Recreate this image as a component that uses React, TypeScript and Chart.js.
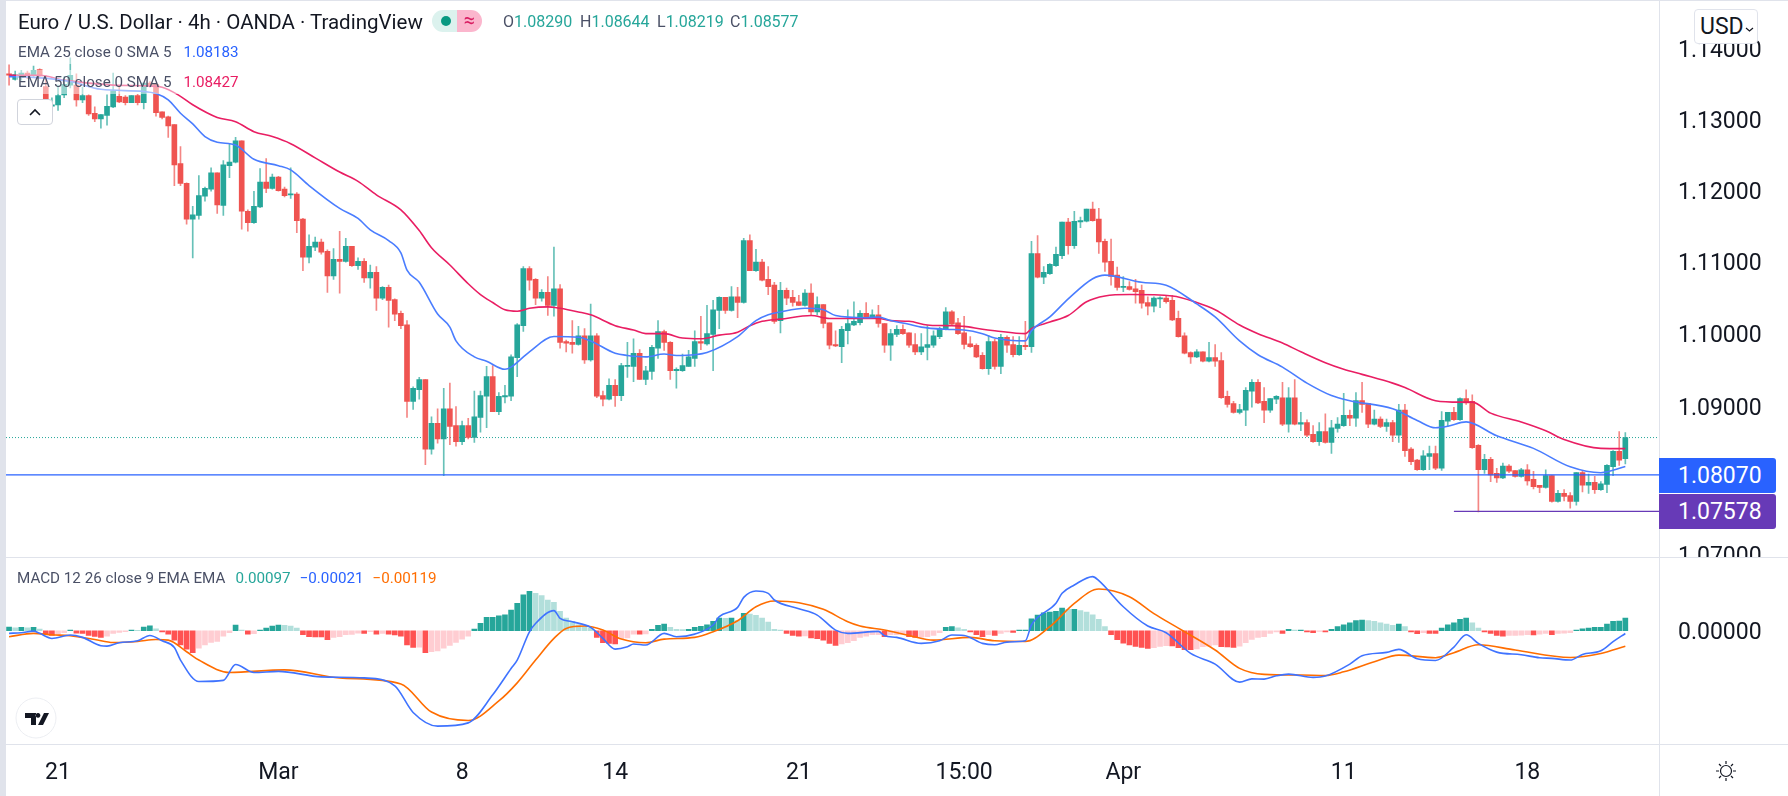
import { useEffect, useRef } from "react";
import { Chart, registerables } from "chart.js";
import type { Plugin, Scale } from "chart.js";

Chart.register(...registerables);

const opens = [
  1.1364,1.1356,1.1359,1.1365,1.1362,1.1370,1.1346,1.1318,1.1320,1.1334,
  1.1348,1.1348,1.1327,1.1333,1.1308,1.1300,1.1305,1.1317,1.1332,1.1331,
  1.1323,1.1333,1.1323,1.1351,1.1349,1.1310,1.1303,1.1292,1.1237,1.1209,
  1.1159,1.1164,1.1191,1.1201,1.1224,1.1178,1.1234,1.1239,1.1269,1.1170,
  1.1154,1.1176,1.1211,1.1202,1.1218,1.1201,1.1193,1.1194,1.1159,1.1106,
  1.1120,1.1127,1.1114,1.1080,1.1103,1.1100,1.1121,1.1094,1.1100,1.1077,
  1.1085,1.1049,1.1064,1.1047,1.1028,1.1012,1.0907,1.0923,1.0937,1.0842,
  1.0877,1.0856,1.0897,1.0874,1.0852,1.0874,1.0858,1.0885,1.0914,1.0941,
  1.0893,1.0913,1.0914,1.0967,1.1011,1.1090,1.1075,1.1049,1.1057,1.1039,
  1.1062,1.0989,1.0988,1.0985,1.0997,1.0964,1.0997,1.0915,1.0910,1.0929,
  1.0915,1.0955,1.0955,1.0973,1.0937,1.0948,1.0980,1.1003,1.0988,1.0949,
  1.0949,1.0955,1.0966,1.0989,1.0986,1.0999,1.1032,1.1050,1.1032,1.1051,
  1.1043,1.1129,1.1087,1.1099,1.1075,1.1067,1.1018,1.1060,1.1050,1.1044,
  1.1039,1.1056,1.1030,1.1040,1.1015,1.0985,1.0982,1.1004,1.1012,1.1015,
  1.1028,1.1022,1.1026,1.1014,1.0984,1.0999,1.1006,1.1001,1.0985,1.0975,
  1.0981,1.0984,1.0996,1.1006,1.1030,1.1015,1.1001,1.0986,1.0984,1.0970,
  1.0952,1.0989,1.0955,1.0995,1.0985,1.0971,1.0984,1.0982,1.1111,1.1078,
  1.1083,1.1094,1.1108,1.1155,1.1122,1.1155,1.1156,1.1173,1.1159,1.1128,
  1.1100,1.1081,1.1064,1.1065,1.1062,1.1060,1.1043,1.1038,1.1048,1.1049,
  1.1046,1.1021,1.0997,1.0974,1.0968,1.0975,1.0962,1.0967,1.0963,1.0914,
  1.0904,1.0892,1.0895,1.0921,1.0933,1.0907,1.0895,1.0910,1.0912,1.0876,
  1.0912,1.0876,1.0878,1.0862,1.0852,1.0866,1.0851,1.0870,1.0874,1.0888,
  1.0884,1.0908,1.0904,1.0876,1.0883,1.0873,1.0878,1.0861,1.0895,1.0842,
  1.0827,1.0814,1.0832,1.0836,1.0816,1.0880,1.0892,1.0882,1.0911,1.0907,
  1.0847,1.0814,1.0828,1.0809,1.0803,1.0819,1.0813,1.0805,1.0814,1.0801,
  1.0793,1.0790,1.0806,1.0771,1.0782,1.0779,1.0771,1.0810,1.0793,1.0797,
  1.0787,1.0794,1.0818,1.0839,1.0829,
];

const closes = [
  1.1362,1.1363,1.1365,1.1362,1.1369,1.1361,1.1318,1.1320,1.1333,1.1349,
  1.1362,1.1327,1.1333,1.1307,1.1300,1.1306,1.1318,1.1340,1.1324,1.1323,
  1.1333,1.1323,1.1351,1.1348,1.1309,1.1302,1.1290,1.1235,1.1209,1.1159,
  1.1165,1.1192,1.1202,1.1224,1.1179,1.1235,1.1239,1.1269,1.1170,1.1154,
  1.1177,1.1211,1.1202,1.1218,1.1199,1.1192,1.1194,1.1157,1.1106,1.1121,
  1.1127,1.1113,1.1080,1.1103,1.1100,1.1121,1.1094,1.1100,1.1077,1.1085,
  1.1049,1.1064,1.1046,1.1027,1.1011,1.0907,1.0925,1.0937,1.0842,1.0877,
  1.0856,1.0897,1.0873,1.0852,1.0874,1.0858,1.0886,1.0915,1.0941,1.0893,
  1.0914,1.0915,1.0968,1.1012,1.1090,1.1074,1.1049,1.1057,1.1039,1.1062,
  1.0988,1.0987,1.0985,1.0997,1.0964,1.0997,1.0914,1.0910,1.0929,1.0915,
  1.0956,1.0956,1.0973,1.0937,1.0949,1.0981,1.1003,1.0988,1.0949,1.0951,
  1.0956,1.0968,1.0989,1.0987,1.1000,1.1033,1.1050,1.1032,1.1051,1.1043,
  1.1129,1.1087,1.1099,1.1074,1.1065,1.1017,1.1060,1.1049,1.1043,1.1039,
  1.1056,1.1030,1.1040,1.1014,1.0984,1.0983,1.1006,1.1014,1.1017,1.1028,
  1.1022,1.1026,1.1014,1.0984,1.1000,1.1006,1.1000,1.0984,1.0975,1.0982,
  1.0985,1.0997,1.1007,1.1030,1.1013,1.1000,1.0985,1.0982,1.0968,1.0952,
  1.0989,1.0955,1.0995,1.0984,1.0971,1.0984,1.0982,1.1111,1.1078,1.1085,
  1.1096,1.1110,1.1155,1.1122,1.1156,1.1157,1.1173,1.1157,1.1127,1.1099,
  1.1079,1.1064,1.1065,1.1061,1.1058,1.1042,1.1038,1.1049,1.1049,1.1044,
  1.1019,1.0996,1.0973,1.0968,1.0975,1.0962,1.0967,1.0962,1.0912,1.0903,
  1.0892,1.0896,1.0922,1.0933,1.0905,1.0895,1.0911,1.0914,1.0876,1.0912,
  1.0876,1.0878,1.0861,1.0852,1.0866,1.0851,1.0871,1.0876,1.0888,1.0884,
  1.0908,1.0903,1.0876,1.0883,1.0873,1.0878,1.0861,1.0895,1.0840,1.0825,
  1.0814,1.0833,1.0836,1.0816,1.0881,1.0892,1.0882,1.0911,1.0905,1.0844,
  1.0814,1.0828,1.0807,1.0803,1.0819,1.0812,1.0805,1.0814,1.0799,1.0791,
  1.0790,1.0806,1.0771,1.0782,1.0778,1.0771,1.0810,1.0793,1.0797,1.0787,
  1.0795,1.0820,1.0839,1.0827,1.08577,
];

const highs = [
  1.1377,1.1368,1.1369,1.1368,1.1375,1.1371,1.1362,1.1330,1.1348,1.1360,
  1.1387,1.1364,1.1345,1.1334,1.1317,1.1306,1.1334,1.1365,1.1345,1.1333,
  1.1333,1.1335,1.1351,1.1353,1.1351,1.1310,1.1304,1.1292,1.1261,1.1210,
  1.1177,1.1220,1.1204,1.1231,1.1224,1.1241,1.1264,1.1274,1.1269,1.1172,
  1.1198,1.1230,1.1244,1.1222,1.1219,1.1204,1.1231,1.1196,1.1160,1.1137,
  1.1134,1.1131,1.1116,1.1118,1.1142,1.1132,1.1121,1.1105,1.1104,1.1095,
  1.1093,1.1065,1.1067,1.1048,1.1031,1.1018,1.0927,1.0940,1.0937,1.0886,
  1.0897,1.0925,1.0932,1.0900,1.0880,1.0884,1.0921,1.0921,1.0955,1.0956,
  1.0919,1.0929,1.0971,1.1014,1.1093,1.1093,1.1076,1.1061,1.1079,1.1120,
  1.1068,1.0991,1.1018,1.1010,1.1007,1.1041,1.1000,1.0921,1.0938,1.0937,
  1.0959,1.0988,1.0993,1.0978,1.0955,1.0984,1.1018,1.1005,1.0989,1.0953,
  1.0972,1.0977,1.1004,1.1024,1.1039,1.1046,1.1051,1.1050,1.1065,1.1064,
  1.1132,1.1137,1.1117,1.1103,1.1093,1.1071,1.1071,1.1063,1.1060,1.1053,
  1.1061,1.1069,1.1051,1.1040,1.1015,1.1004,1.1010,1.1033,1.1044,1.1032,
  1.1043,1.1033,1.1039,1.1014,1.1006,1.1011,1.1012,1.1001,1.1000,1.1000,
  1.1011,1.1004,1.1009,1.1036,1.1032,1.1021,1.1024,1.0996,1.0986,1.0974,
  1.0997,1.0992,1.0999,1.0997,1.0996,1.0996,1.1017,1.1128,1.1136,1.1093,
  1.1097,1.1120,1.1155,1.1160,1.1170,1.1162,1.1173,1.1183,1.1174,1.1131,
  1.1131,1.1092,1.1079,1.1072,1.1075,1.1067,1.1051,1.1051,1.1051,1.1053,
  1.1053,1.1031,1.1001,1.0975,1.0978,1.0975,1.0988,1.0985,1.0974,1.0921,
  1.0907,1.0903,1.0926,1.0937,1.0937,1.0926,1.0911,1.0915,1.0933,1.0926,
  1.0937,1.0892,1.0882,1.0874,1.0878,1.0890,1.0881,1.0885,1.0918,1.0895,
  1.0919,1.0933,1.0904,1.0895,1.0886,1.0883,1.0881,1.0903,1.0903,1.0844,
  1.0828,1.0840,1.0846,1.0846,1.0893,1.0892,1.0899,1.0912,1.0923,1.0916,
  1.0848,1.0835,1.0831,1.0816,1.0823,1.0821,1.0813,1.0816,1.0821,1.0812,
  1.0793,1.0814,1.0806,1.0786,1.0787,1.0783,1.0810,1.0812,1.0808,1.0805,
  1.0798,1.0821,1.0840,1.0866,1.08644,
];

const lows = [
  1.1348,1.1355,1.1355,1.1357,1.1359,1.1358,1.1312,1.1316,1.1312,1.1330,
  1.1344,1.1318,1.1323,1.1305,1.1296,1.1287,1.1291,1.1316,1.1323,1.1320,
  1.1323,1.1320,1.1314,1.1345,1.1304,1.1300,1.1274,1.1206,1.1206,1.1152,
  1.1105,1.1159,1.1184,1.1198,1.1167,1.1164,1.1217,1.1238,1.1145,1.1142,
  1.1153,1.1175,1.1196,1.1201,1.1198,1.1190,1.1188,1.1140,1.1087,1.1098,
  1.1115,1.1110,1.1057,1.1075,1.1056,1.1099,1.1093,1.1089,1.1071,1.1063,
  1.1032,1.1047,1.1009,1.1018,1.1007,1.0885,1.0896,1.0910,1.0821,1.0835,
  1.0850,1.0806,1.0848,1.0846,1.0848,1.0856,1.0851,1.0865,1.0871,1.0893,
  1.0889,1.0905,1.0908,1.0941,1.1003,1.1060,1.1040,1.1045,1.1025,1.1024,
  1.0980,1.0975,1.0973,1.0984,1.0959,1.0962,1.0912,1.0901,1.0909,1.0900,
  1.0908,1.0940,1.0934,1.0937,1.0930,1.0937,1.0966,1.0977,1.0937,1.0925,
  1.0948,1.0955,1.0955,1.0978,1.0984,1.0949,1.1007,1.1028,1.1031,1.1022,
  1.1042,1.1087,1.1086,1.1073,1.1054,1.1014,1.1001,1.1040,1.1038,1.1039,
  1.1038,1.1025,1.1026,1.1008,1.0979,1.0982,1.0960,1.0986,1.1011,1.1012,
  1.1021,1.1021,1.1009,1.0974,1.0963,1.0996,1.0999,1.0981,1.0971,1.0971,
  1.0964,1.0981,1.0993,1.1005,1.1012,1.0999,1.0979,1.0981,1.0967,1.0951,
  1.0944,1.0951,1.0945,1.0974,1.0968,1.0970,1.0978,1.0974,1.1077,1.1069,
  1.1082,1.1093,1.1104,1.1110,1.1118,1.1147,1.1155,1.1156,1.1111,1.1086,
  1.1067,1.1060,1.1058,1.1060,1.1042,1.1035,1.1026,1.1030,1.1036,1.1042,
  1.1018,1.0995,1.0972,1.0959,1.0967,1.0961,1.0961,1.0955,1.0911,1.0899,
  1.0891,1.0890,1.0874,1.0899,1.0904,1.0878,1.0892,1.0904,1.0874,1.0865,
  1.0875,1.0867,1.0859,1.0851,1.0847,1.0850,1.0836,1.0865,1.0873,1.0874,
  1.0873,1.0892,1.0871,1.0875,1.0871,1.0866,1.0852,1.0851,1.0832,1.0821,
  1.0813,1.0813,1.0814,1.0814,1.0813,1.0873,1.0881,1.0881,1.0903,1.0843,
  1.0757,1.0809,1.0798,1.0797,1.0802,1.0810,1.0804,1.0804,1.0793,1.0788,
  1.0783,1.0789,1.0770,1.0770,1.0772,1.0762,1.0766,1.0784,1.0782,1.0782,
  1.0786,1.0783,1.0806,1.0820,1.08219,
];

// EMA readings, taken at the bars where the curve bends
const ema25At = [0,4,10,15,22,24,26,28,30,32,34,37,40,44,46,49,54,57,59,62,64,65,67,70,72,73,76,78,81,82,85,89,93,95,99,101,104,107,109,112,114,119,122,124,126,130,133,135,140,142,144,147,149,153,156,159,161,166,167,170,173,177,179,185,189,194,197,201,204,208,212,216,219,226,230,233,235,238,243,249,255,260,264];
const ema25 = [1.1360,1.1359,1.1353,1.1342,1.1339,1.1336,1.1327,1.1308,1.1293,1.1275,1.1267,1.1263,1.1243,1.1234,1.1228,1.1206,1.1174,1.1160,1.1144,1.1129,1.1112,1.1088,1.1071,1.1027,1.1009,1.0990,1.0968,1.0962,1.0951,1.0954,1.0975,1.0996,1.0995,1.0990,1.0973,1.0970,1.0968,1.0972,1.0970,1.0971,1.0974,1.0996,1.1018,1.1026,1.1030,1.1035,1.1033,1.1025,1.1022,1.1023,1.1018,1.1013,1.1009,1.1006,1.1005,1.1000,1.0994,1.0990,1.1004,1.1023,1.1048,1.1076,1.1081,1.1071,1.1067,1.1041,1.1023,1.0990,1.0971,1.0954,1.0932,1.0915,1.0908,1.0897,1.0881,1.0871,1.0873,1.0879,1.0860,1.0843,1.0818,1.0810,1.08183];

const ema50At = [0,5,9,17,22,25,28,30,34,37,40,43,46,50,54,57,60,64,67,69,72,75,77,79,81,83,85,88,90,93,95,99,102,104,107,110,113,116,119,121,123,126,131,134,137,142,144,147,150,153,156,159,161,166,167,170,173,176,179,183,190,194,197,201,204,208,211,215,218,221,226,228,233,237,239,242,247,251,254,260,264];
const ema50 = [1.1362,1.1362,1.1355,1.1348,1.1347,1.1345,1.1332,1.1320,1.1302,1.1296,1.1282,1.1275,1.1265,1.1245,1.1225,1.1212,1.1193,1.1172,1.1143,1.1119,1.1095,1.1069,1.1054,1.1043,1.1033,1.1031,1.1035,1.1037,1.1035,1.1030,1.1026,1.1011,1.1005,1.1000,1.1000,1.0994,1.0993,1.0998,1.1002,1.1011,1.1017,1.1020,1.1025,1.1021,1.1021,1.1021,1.1018,1.1017,1.1012,1.1011,1.1010,1.1006,1.1004,1.1000,1.1007,1.1016,1.1025,1.1044,1.1052,1.1054,1.1052,1.1043,1.1033,1.1012,1.1000,1.0987,1.0975,1.0960,1.0951,1.0944,1.0932,1.0926,1.0908,1.0906,1.0906,1.0891,1.0879,1.0867,1.0855,1.0843,1.08427];

// MACD panel, values in units of 0.00001
const macdHist = [
  28,23,26,23,26,13,-31,-36,-26,-15,
  5,-18,-20,-36,-44,-51,-41,-20,-13,-8,
  5,4,28,38,15,-10,-26,-72,-108,-141,
  -169,-133,-108,-90,-82,-41,-15,44,5,-26,
  -23,5,20,36,44,41,36,20,-31,-46,
  -47,-48,-69,-51,-46,-31,-28,-18,-20,-8,
  -26,-20,-26,-33,-41,-108,-128,-127,-169,-161,
  -154,-133,-113,-90,-64,-41,13,56,102,103,
  115,123,159,210,276,302,287,269,236,218,
  148,97,72,46,31,20,-51,-92,-97,-102,
  -61,-56,-26,-27,-24,10,41,51,26,10,
  9,10,26,33,46,72,97,96,97,77,
  133,128,118,97,67,10,5,-20,-36,-41,
  -40,-56,-61,-72,-97,-113,-102,-92,-77,-51,
  -41,-31,-30,-46,-31,-30,-28,-46,-51,-50,
  -46,-36,-15,26,31,23,10,-10,-31,-46,
  -31,-36,-20,-10,-13,5,6,92,120,138,
  143,148,174,164,165,154,143,123,87,31,
  -31,-68,-95,-108,-120,-128,-135,-130,-120,-115,
  -116,-130,-145,-146,-140,-123,-118,-108,-123,-124,
  -128,-118,-92,-67,-51,-46,-20,-10,-20,10,
  5,6,-10,-15,-5,-10,10,31,46,61,
  77,82,77,72,61,51,41,51,31,-10,
  -23,-15,-20,-21,20,46,61,87,97,61,
  20,-10,-20,-36,-41,-36,-35,-34,-31,-32,
  -26,-20,-31,-20,-19,-15,5,15,20,26,
  27,51,72,74,97,
];

const macdLineAt = [0,2,4,5,7,10,12,15,16,18,21,23,25,27,28,31,35,37,40,44,51,58,63,66,70,75,79,82,83,85,86,89,90,92,95,97,99,101,102,104,107,109,112,115,116,119,120,122,124,125,129,132,135,137,142,143,145,149,152,154,156,159,161,163,166,167,171,172,174,177,178,182,186,189,193,197,201,203,205,207,209,213,215,219,221,225,227,230,233,236,238,240,243,247,250,252,255,257,260,262,264];
const macdLine = [-20,-15,-3,-20,-59,-33,-51,-115,-118,-92,-77,-36,-77,-128,-225,-390,-381,-259,-320,-312,-354,-362,-423,-627,-732,-707,-492,-290,-225,-8,56,154,95,69,26,-59,-141,-123,-102,-110,-20,-46,-26,44,108,179,256,305,287,236,169,120,5,-20,-5,-38,-51,-97,-77,-33,-36,-97,-108,-87,-77,44,210,287,351,415,384,184,36,-15,-174,-256,-394,-369,-371,-346,-333,-358,-348,-256,-192,-166,-143,-215,-228,-125,-31,-97,-164,-184,-207,-212,-225,-182,-154,-84,-21];

const signalLineAt = [0,4,7,10,14,17,21,24,26,29,31,36,45,54,64,69,75,80,83,86,89,91,94,97,100,104,107,112,115,119,122,125,129,133,137,139,143,147,151,157,161,166,170,174,178,183,187,191,197,201,205,211,215,218,223,227,233,236,240,246,255,260,264];
const signalLine = [-46,-20,-31,-38,-67,-90,-82,-67,-72,-161,-225,-320,-300,-362,-408,-624,-689,-539,-400,-225,-59,18,36,5,-64,-92,-64,-51,-8,77,184,228,215,164,69,36,5,-36,-72,-51,-77,-82,31,210,320,261,131,20,-148,-289,-335,-340,-343,-315,-238,-187,-207,-169,-108,-148,-205,-174,-119];

const priceTicks = [1.07, 1.09, 1.1, 1.11, 1.12, 1.13, 1.14];
const macdTicks = [0];
const timeTickAt = [8, 44, 74, 99, 129, 156, 182, 218, 248];
const timeTicks = ["21", "Mar", "8", "14", "21", "15:00", "Apr", "11", "18"];

const lastClose = 1.08577;
const blueLevel = 1.0807;
const purpleLevel = 1.07578;
const purpleLevelFrom = 236;
const blueLabel = "1.08070";
const purpleLabel = "1.07578";

const TOTAL_SLOTS = 270;
const UP = "#26a69a";
const DOWN = "#ef5350";
const FONT = "Roboto, sans-serif";

// Put sparse readings on the full bar axis, the line spans the gaps
function sparse(at: number[], values: number[], scale = 1) {
  const out: (number | null)[] = new Array(TOTAL_SLOTS).fill(null);
  at.forEach((bar, k) => {
    out[bar] = values[k] * scale;
  });
  return out;
}

// Scales otherwise push the plot area in to make room for half a label
function fixAxis(scale: Scale, size: { width?: number; height?: number }) {
  if (size.width) {
    scale.width = size.width;
  }
  if (size.height) {
    scale.height = size.height;
  }
  scale.paddingLeft = 0;
  scale.paddingRight = 0;
  scale.paddingTop = 0;
  scale.paddingBottom = 0;
}

// Empty first line with a small line height nudges the label down a little
const axisLabel = (v: string | number) => ["", Number(v).toFixed(5)];

const levelLines: Plugin<"bar"> = {
  id: "levelLines",
  beforeDatasetsDraw(chart) {
    const { ctx, chartArea, scales } = chart;
    const y = scales.y.getPixelForValue(lastClose);
    ctx.save();
    ctx.strokeStyle = UP;
    ctx.lineWidth = 1;
    ctx.setLineDash([1, 2]);
    ctx.beginPath();
    ctx.moveTo(chartArea.left, y);
    ctx.lineTo(chartArea.right, y);
    ctx.stroke();
    ctx.restore();
  },
  afterDatasetsDraw(chart) {
    const { ctx, chartArea, scales } = chart;
    ctx.save();
    ctx.lineWidth = 1.2;
    ctx.strokeStyle = "#2962ff";
    ctx.beginPath();
    ctx.moveTo(chartArea.left, scales.y.getPixelForValue(blueLevel));
    ctx.lineTo(chartArea.right, scales.y.getPixelForValue(blueLevel));
    ctx.stroke();
    ctx.strokeStyle = "#673ab7";
    ctx.beginPath();
    ctx.moveTo(scales.x.getPixelForValue(purpleLevelFrom), scales.y.getPixelForValue(purpleLevel));
    ctx.lineTo(chartArea.right, scales.y.getPixelForValue(purpleLevel));
    ctx.stroke();
    ctx.restore();
  },
};

function PriceChart() {
  const canvasRef = useRef<HTMLCanvasElement | null>(null);

  useEffect(() => {
    const canvas = canvasRef.current;
    if (!canvas) {
      return;
    }

    const labels = new Array(TOTAL_SLOTS).fill("").map((_, i) => {
      const k = timeTickAt.indexOf(i);
      return k >= 0 ? timeTicks[k] : "";
    });
    const isUp = opens.map((o, i) => closes[i] >= o);
    const hist = macdHist.map((v) => v / 1e5);

    const line = (data: (number | null)[], color: string, axis: string, width = 1.6) => ({
      type: "line" as const,
      data,
      yAxisID: axis,
      borderColor: color,
      borderWidth: width,
      pointRadius: 0,
      spanGaps: true,
      cubicInterpolationMode: "monotone" as const,
      order: 1,
    });

    const chart = new Chart(canvas, {
      type: "bar",
      data: {
        labels,
        datasets: [
          line(sparse(ema25At, ema25), "#4a7dff", "y"),
          line(sparse(ema50At, ema50), "#e91e63", "y"),
          line(sparse(macdLineAt, macdLine, 1e-5), "#3f73ff", "macd"),
          line(sparse(signalLineAt, signalLine, 1e-5), "#ff6d00", "macd"),
          {
            data: opens.map((o, i) => [o, closes[i]]),
            yAxisID: "y",
            backgroundColor: isUp.map((u) => (u ? UP : DOWN)),
            barThickness: 5,
            minBarLength: 1,
            grouped: false,
            order: 2,
          },
          {
            data: lows.map((l, i) => [l, highs[i]]),
            yAxisID: "y",
            backgroundColor: isUp.map((u) => (u ? "rgba(38,166,154,0.7)" : "rgba(239,83,80,0.7)")),
            barThickness: 1,
            grouped: false,
            order: 3,
          },
          {
            data: hist,
            yAxisID: "macd",
            backgroundColor: hist.map((v, i) => {
              const prev = i > 0 ? hist[i - 1] : 0;
              if (v >= 0) {
                return v >= prev ? "#26a69a" : "#b2dfdb";
              }
              return v <= prev ? "#ff5252" : "#ffcdd2";
            }),
            barThickness: 5,
            grouped: false,
            order: 4,
          },
        ] as any,
      },
      options: {
        responsive: false,
        animation: false,
        layout: { autoPadding: false, padding: { left: 6, top: 1, right: 0, bottom: 0 } },
        plugins: { legend: { display: false }, tooltip: { enabled: false } },
        scales: {
          x: {
            offset: true,
            grid: { display: false },
            border: { display: false },
            ticks: {
              autoSkip: false,
              maxRotation: 0,
              padding: 7,
              color: "#131722",
              font: { family: FONT, size: 23 },
            },
            afterFit: (scale) => fixAxis(scale, { height: 52 }),
          },
          y: {
            type: "logarithmic",
            position: "right",
            stack: "panes",
            stackWeight: 556,
            bounds: "data",
            min: 1.06954,
            max: 1.14682,
            grid: { display: false },
            border: { display: false },
            afterBuildTicks: (scale) => {
              scale.ticks = priceTicks.map((value) => ({ value }));
            },
            ticks: {
              padding: 11,
              color: "#131722",
              font: { family: FONT, size: 23, lineHeight: "6px" },
              callback: axisLabel,
            },
            afterFit: (scale) => fixAxis(scale, { width: 129 }),
          },
          macd: {
            position: "right",
            stack: "panes",
            stackWeight: 186,
            bounds: "data",
            min: -0.00869,
            max: 0.0056,
            grid: { display: false },
            border: { display: false },
            afterBuildTicks: (scale) => {
              scale.ticks = macdTicks.map((value) => ({ value }));
            },
            ticks: {
              padding: 11,
              color: "#131722",
              font: { family: FONT, size: 23, lineHeight: "6px" },
              callback: axisLabel,
            },
            afterFit: (scale) => fixAxis(scale, { width: 129 }),
          },
        },
      },
      plugins: [levelLines],
    });

    return () => {
      chart.destroy();
    };
  }, []);

  return <canvas ref={canvasRef} width={1788} height={796} style={{ position: "absolute", left: 0, top: 0 }} />;
}

const abs = (left: number, top: number, extra: React.CSSProperties = {}): React.CSSProperties => ({
  position: "absolute",
  left,
  top,
  whiteSpace: "nowrap",
  ...extra,
});

const legendRow: React.CSSProperties = {
  fontSize: 15.2,
  lineHeight: "24px",
  color: "#4a5066",
  background: "rgba(255,255,255,0.5)",
  padding: "0 2px",
};

export default function App() {
  return (
    <div style={{ position: "fixed", left: 0, top: 0, width: 1788, height: 796, background: "#fff", overflow: "hidden", fontFamily: FONT }}>
      <PriceChart />

      {/* frame and pane separators */}
      <div style={abs(0, 0, { width: 6, height: 796, background: "#e0e3eb" })} />
      <div style={abs(0, 0, { width: 1788, height: 1, background: "#e0e3eb" })} />
      <div style={abs(1660, 558, { width: 128, height: 20, background: "#fff" })} />
      <div style={abs(6, 557, { width: 1782, height: 1, background: "#e0e3eb" })} />
      <div style={abs(6, 744, { width: 1782, height: 1, background: "#e0e3eb" })} />
      <div style={abs(1659, 0, { width: 1, height: 796, background: "#e0e3eb" })} />

      {/* top legend */}
      <div style={abs(18, 9, { fontSize: 20.5, lineHeight: "26px", color: "#131722" })}>Euro / U.S. Dollar · 4h · OANDA · TradingView</div>
      <div style={abs(432, 10, { width: 50, height: 22, borderRadius: 11, overflow: "hidden", display: "flex" })}>
        <div style={{ width: 25, background: "#dcf2ee", position: "relative" }}>
          <div style={{ position: "absolute", left: 9, top: 6, width: 10, height: 10, borderRadius: 5, background: "#089981" }} />
        </div>
        <div style={{ width: 25, background: "#fbb6cd", color: "#d81b60", textAlign: "center", fontSize: 20, lineHeight: "21px" }}>≈</div>
      </div>
      <div style={abs(503, 10, { fontSize: 16, lineHeight: "24px", color: "#4a5066", display: "flex" })}>
        <span style={{ width: 77 }}>O<span style={{ color: UP }}>1.08290</span></span>
        <span style={{ width: 77 }}>H<span style={{ color: UP }}>1.08644</span></span>
        <span style={{ width: 73 }}>L<span style={{ color: UP }}>1.08219</span></span>
        <span>C<span style={{ color: UP }}>1.08577</span></span>
      </div>
      <div style={abs(16, 40, legendRow)}>EMA 25 close 0 SMA 5<span style={{ color: "#2962ff", marginLeft: 12 }}>1.08183</span></div>
      <div style={abs(16, 70, legendRow)}>EMA 50 close 0 SMA 5<span style={{ color: "#e91e63", marginLeft: 12 }}>1.08427</span></div>
      <div style={abs(17, 99, { width: 36, height: 26, boxSizing: "border-box", border: "1px solid #d1d4dc", borderRadius: 4, background: "#fff" })}>
        <svg width="34" height="24">
          <path d="M12 15 L17 10 L22 15" fill="none" stroke="#131722" strokeWidth="1.6" />
        </svg>
      </div>

      {/* MACD legend */}
      <div style={abs(15, 566, { ...legendRow, background: "transparent" })}>
        MACD 12 26 close 9 EMA EMA
        <span style={{ color: UP, marginLeft: 10 }}>0.00097</span>
        <span style={{ color: "#2962ff", marginLeft: 9 }}>−0.00021</span>
        <span style={{ color: "#ff6d00", marginLeft: 9 }}>−0.00119</span>
      </div>

      {/* price labels */}
      <div style={abs(1694, 9, { width: 64, height: 35, boxSizing: "border-box", border: "1px solid #e0e3eb", borderRadius: 4, background: "#fff", color: "#131722", fontSize: 23, lineHeight: "33px", paddingLeft: 5 })}>
        USD
        <svg width="10" height="8" style={{ marginLeft: 1 }}>
          <path d="M1 2 L4.5 5 L8 2" fill="none" stroke="#131722" strokeWidth="1.2" />
        </svg>
      </div>
      <div style={abs(1659, 458, { width: 117, height: 35, background: "#2962ff", color: "#fff", fontSize: 23, lineHeight: "35px", paddingLeft: 19, boxSizing: "border-box", borderRadius: "0 3px 3px 0" })}>{blueLabel}</div>
      <div style={abs(1659, 494, { width: 117, height: 35, background: "#673ab7", color: "#fff", fontSize: 23, lineHeight: "35px", paddingLeft: 19, boxSizing: "border-box", borderRadius: "0 3px 3px 0" })}>{purpleLabel}</div>

      {/* logo and settings icon */}
      <svg width="50" height="50" style={abs(11, 693)}>
        <circle cx="25" cy="25" r="20" fill="#fff" stroke="#eceef2" />
        <path d="M14 20 H25 V32 H20 V25 H14 Z M27 20 a2.4 2.4 0 1 0 0.01 0 Z M33 20 H38 L32 32 H27 Z" fill="#131722" />
      </svg>
      <svg width="24" height="24" style={abs(1714, 759)}>
        <circle cx="12" cy="12" r="5.5" fill="none" stroke="#131722" strokeWidth="1.2" />
        <path d="M12 2 V5 M12 19 V22 M2 12 H5 M19 12 H22 M5 5 L7 7 M17 17 L19 19 M5 19 L7 17 M17 7 L19 5" stroke="#131722" strokeWidth="1.2" />
      </svg>
    </div>
  );
}
